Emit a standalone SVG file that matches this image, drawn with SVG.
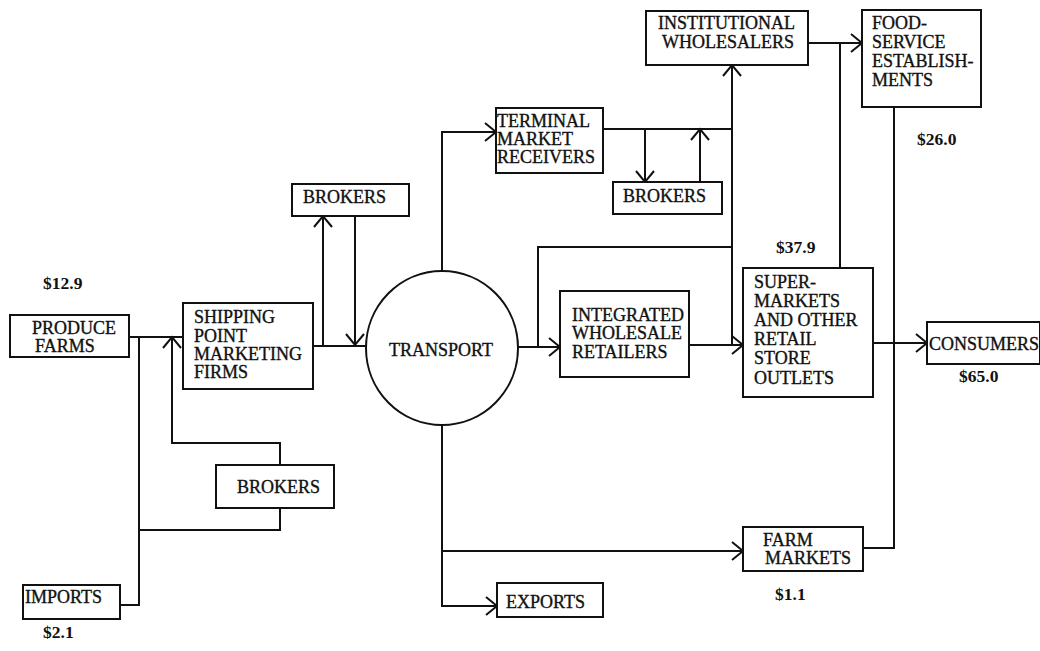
<svg xmlns="http://www.w3.org/2000/svg" width="1040" height="651" viewBox="0 0 1040 651">
<style>
.box{fill:#fff;stroke:#111;stroke-width:2}
.t{font-family:"Liberation Serif","Times New Roman",serif;font-size:18px;fill:#111;stroke:#111;stroke-width:0.35}
.v{font-family:"Liberation Serif","Times New Roman",serif;font-size:17.5px;font-weight:bold;fill:#111}
.c{fill:none;stroke:#111;stroke-width:2}
</style>
<defs>
<marker id="arr" viewBox="-1 -1 14 20" refX="11" refY="9" markerWidth="14" markerHeight="20" markerUnits="userSpaceOnUse" orient="auto" overflow="visible">
<path d="M0,0 L11,9 L0,18" fill="none" stroke="#111" stroke-width="2"/>
</marker>
</defs>
<rect width="1040" height="651" fill="#fff"/>
<g id="connectors">
<path class="c" d="M129,337 H183"/>
<path class="c" d="M120,605 H139 V337"/>
<path class="c" d="M139,530 H280 V508"/>
<path class="c" d="M280,465 V443 H172 V337" marker-end="url(#arr)"/>
<path class="c" d="M313,346 H366"/>
<path class="c" d="M323,346 V216" marker-end="url(#arr)"/>
<path class="c" d="M355,216 V345" marker-end="url(#arr)"/>
<path class="c" d="M442,270 V132 H496" marker-end="url(#arr)"/>
<path class="c" d="M603,129 H732"/>
<path class="c" d="M645,129 V182" marker-end="url(#arr)"/>
<path class="c" d="M700,182 V129" marker-end="url(#arr)"/>
<path class="c" d="M517,347 H560" marker-end="url(#arr)"/>
<path class="c" d="M538,347 V247 H732"/>
<path class="c" d="M732,345 V65" marker-end="url(#arr)"/>
<path class="c" d="M689,345 H743" marker-end="url(#arr)"/>
<path class="c" d="M808,43 H862" marker-end="url(#arr)"/>
<path class="c" d="M840,43 V268"/>
<path class="c" d="M873,343 H927" marker-end="url(#arr)"/>
<path class="c" d="M894,107 V548 H863"/>
<path class="c" d="M442,425 V606 H497" marker-end="url(#arr)"/>
<path class="c" d="M442,551 H743" marker-end="url(#arr)"/>
</g>
<g id="produce-farms">
<rect class="box" x="10" y="315" width="119" height="42"/>
<text class="t" x="32" y="334">PRODUCE</text>
<text class="t" x="35" y="352">FARMS</text>
</g>
<g id="imports">
<rect class="box" x="23" y="585" width="97" height="34"/>
<text class="t" x="25" y="603">IMPORTS</text>
</g>
<g id="shipping-point">
<rect class="box" x="183" y="303" width="130" height="86"/>
<text class="t" x="194" y="323">SHIPPING</text>
<text class="t" x="194" y="342">POINT</text>
<text class="t" x="194" y="360">MARKETING</text>
<text class="t" x="194" y="378">FIRMS</text>
</g>
<g id="brokers-1">
<rect class="box" x="292" y="184" width="117" height="32"/>
<text class="t" x="303" y="203">BROKERS</text>
</g>
<g id="brokers-3">
<rect class="box" x="216" y="465" width="118" height="43"/>
<text class="t" x="237" y="493">BROKERS</text>
</g>
<g id="transport">
<ellipse cx="442" cy="348" rx="76" ry="77" fill="#fff" stroke="#111" stroke-width="2"/>
<text class="t" x="389" y="356">TRANSPORT</text>
</g>
<g id="terminal-market">
<rect class="box" x="496" y="108" width="107" height="65"/>
<text class="t" x="497" y="127">TERMINAL</text>
<text class="t" x="497" y="145">MARKET</text>
<text class="t" x="497" y="163">RECEIVERS</text>
</g>
<g id="brokers-2">
<rect class="box" x="613" y="182" width="109" height="32"/>
<text class="t" x="623" y="202">BROKERS</text>
</g>
<g id="institutional">
<rect class="box" x="646" y="11" width="162" height="54"/>
<text class="t" x="658" y="29">INSTITUTIONAL</text>
<text class="t" x="662" y="48">WHOLESALERS</text>
</g>
<g id="food-service">
<rect class="box" x="862" y="10" width="119" height="97"/>
<text class="t" x="872" y="29">FOOD-</text>
<text class="t" x="872" y="48">SERVICE</text>
<text class="t" x="872" y="67">ESTABLISH-</text>
<text class="t" x="872" y="86">MENTS</text>
</g>
<g id="integrated">
<rect class="box" x="560" y="291" width="129" height="86"/>
<text class="t" x="572" y="321">INTEGRATED</text>
<text class="t" x="572" y="339">WHOLESALE</text>
<text class="t" x="572" y="358">RETAILERS</text>
</g>
<g id="supermarkets">
<rect class="box" x="743" y="268" width="130" height="129"/>
<text class="t" x="754" y="288">SUPER-</text>
<text class="t" x="754" y="307">MARKETS</text>
<text class="t" x="754" y="326">AND OTHER</text>
<text class="t" x="754" y="345">RETAIL</text>
<text class="t" x="754" y="364">STORE</text>
<text class="t" x="754" y="384">OUTLETS</text>
</g>
<g id="consumers">
<rect class="box" x="927" y="322" width="113" height="42"/>
<text class="t" x="929" y="350">CONSUMERS</text>
</g>
<g id="farm-markets">
<rect class="box" x="743" y="527" width="120" height="44"/>
<text class="t" x="763" y="546">FARM</text>
<text class="t" x="765" y="564">MARKETS</text>
</g>
<g id="exports">
<rect class="box" x="497" y="583" width="106" height="34"/>
<text class="t" x="506" y="608">EXPORTS</text>
</g>
<g id="values">
<text class="v" x="43" y="289">$12.9</text>
<text class="v" x="43" y="638">$2.1</text>
<text class="v" x="776" y="253">$37.9</text>
<text class="v" x="917" y="145">$26.0</text>
<text class="v" x="959" y="382">$65.0</text>
<text class="v" x="775" y="600">$1.1</text>
</g>
</svg>
